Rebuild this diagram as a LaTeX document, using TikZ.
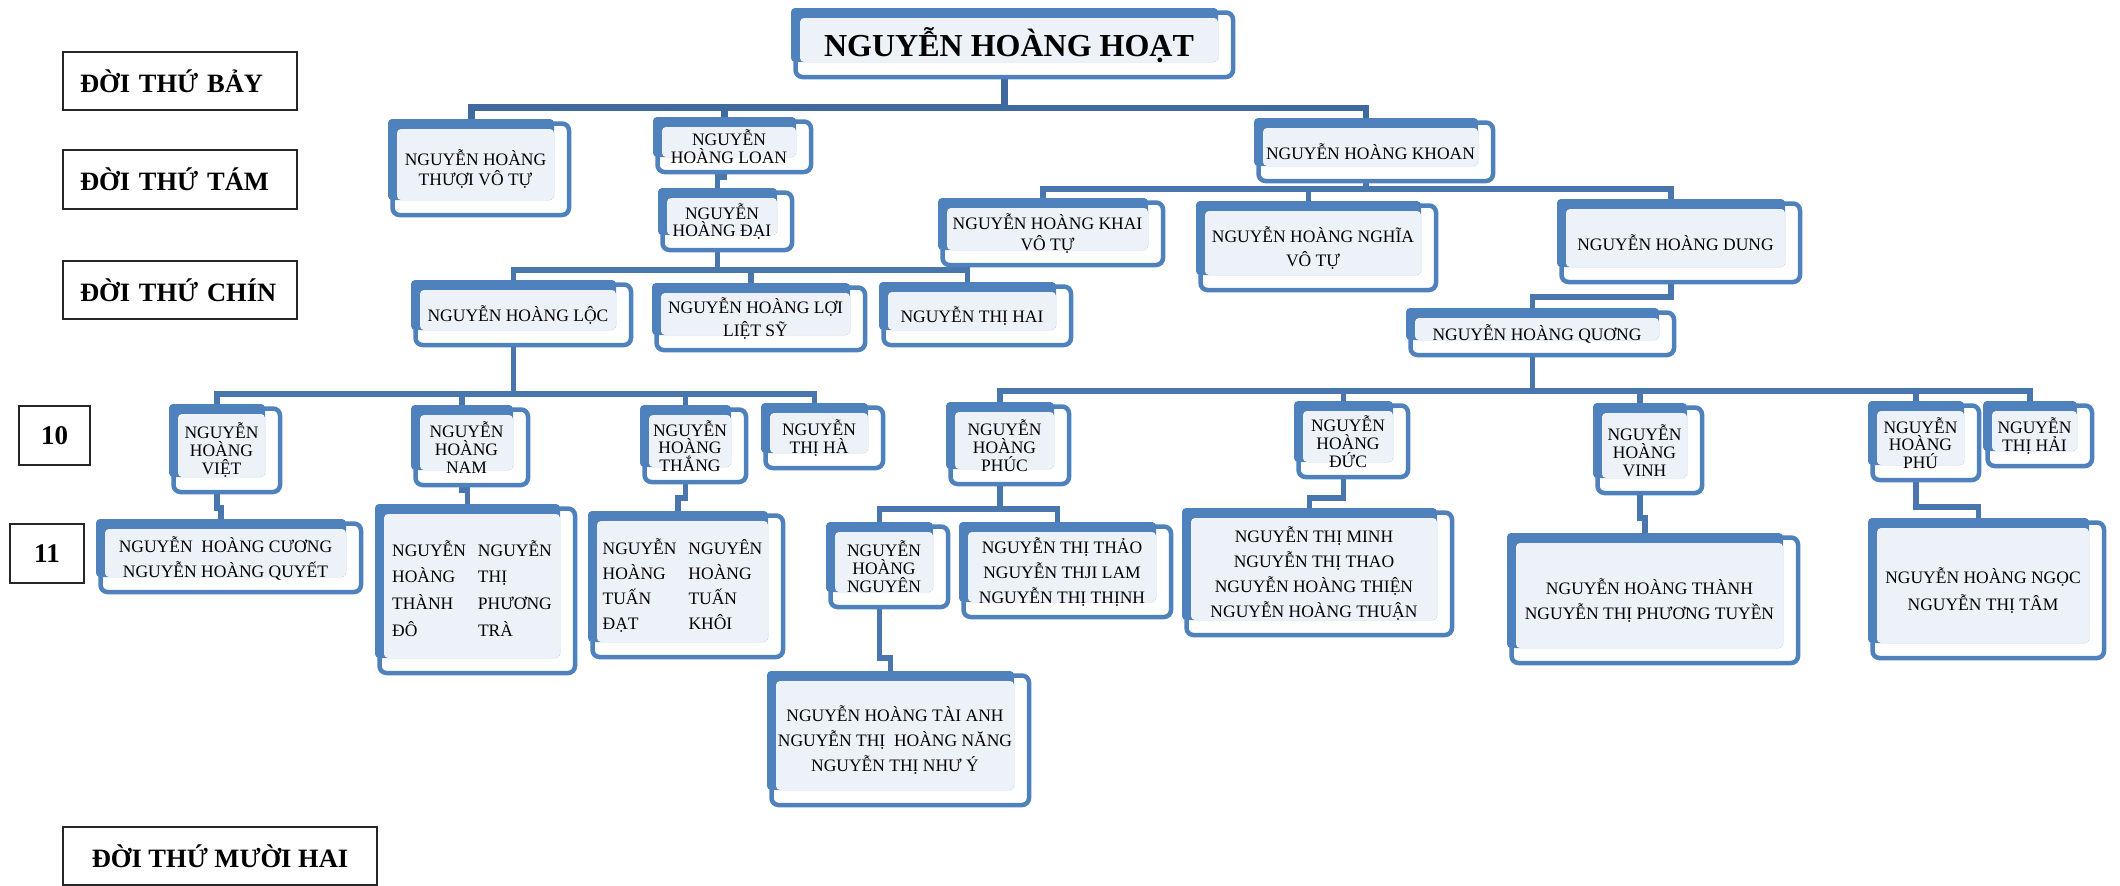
\documentclass[tikz,border=0pt]{standalone}
\usepackage{fontspec}
\setmainfont{Liberation Serif}
\pgfdeclarelayer{bg}
\pgfsetlayers{bg,main}
\definecolor{boxblue}{HTML}{4F81BD}
\definecolor{boxlight}{HTML}{EDF1F8}
\definecolor{connblue}{HTML}{4A76AE}
\definecolor{conndark}{HTML}{3F6A9E}
\definecolor{labline}{HTML}{262626}
\tikzset{
  famouter/.style={draw=boxblue, line width=4.5pt, fill=white, rounded corners=7pt},
  famback/.style={fill=boxblue, rounded corners=4pt},
  famfill/.style={fill=boxlight, rounded corners=4pt},
  famtext/.style={inner sep=0pt, align=center, text=black},
  connline/.style={draw=connblue, line width=5.5pt},
  rootline/.style={draw=conndark, line width=6pt},
  labbox/.style={draw=labline, line width=1.6pt, fill=white, inner sep=0pt,
    font=\bfseries\fontsize{26.5}{30}\selectfont}
}
\newcommand\famnode[7]{%
  \pgfmathsetmacro\famw{#4-#2-9}%
  \pgfmathsetmacro\famh{#5-#3-10}%
  \pgfmathsetmacro\famcx{(#2+9+#4)/2}%
  \pgfmathsetmacro\famcy{(#3+10+#5)/2+5}%
  \draw[famouter] (#2+4.5,#3+4.5) rectangle (#4+15,#5+15);
  \fill[famback] (#2,#3) rectangle (#4,#5);
  \fill[famfill] (#2+9,#3+10) rectangle (#4,#5);
  \node[famtext, minimum width=\famw pt, minimum height=\famh pt,
    font=\fontsize{17.5}{#6}\selectfont] (#1) at (\famcx,\famcy) {#7};
}
\newcommand\famlink[4][connline]{%
  \draw[#1] ([xshift=-4.5pt]#2.south) |- ([xshift=-4.5pt]#3.north |- 0,#4) -- ([xshift=-4.5pt]#3.north);
}
\begin{document}
\begin{tikzpicture}[x=1pt,y=-1pt]
\useasboundingbox (0,0) rectangle (2120,886);
\begin{pgfonlayer}{bg}
\fill[white] (0,0) rectangle (2120,886);
\end{pgfonlayer}

% generation labels
\node[labbox, minimum width=234pt, minimum height=58pt, text width=200pt, align=left] (g7) at (180,81) {ĐỜI THỨ BẢY};
\node[labbox, minimum width=234pt, minimum height=59pt, text width=200pt, align=left] (g8) at (180,179.5) {ĐỜI THỨ TÁM};
\node[labbox, minimum width=234pt, minimum height=58pt, text width=200pt, align=left] (g9) at (180,290) {ĐỜI THỨ CHÍN};
\node[labbox, minimum width=71pt, minimum height=59pt, font=\bfseries\fontsize{27}{30}\selectfont] (g10) at (54.5,435.5) {10};
\node[labbox, minimum width=74pt, minimum height=59pt, font=\bfseries\fontsize{27}{30}\selectfont] (g11) at (47,553.5) {11};
\node[labbox, minimum width=314pt, minimum height=58pt] (g12) at (220,856) {ĐỜI THỨ MƯỜI HAI};

% family boxes
\famnode{root}{791}{8}{1218}{62}{36}{\bfseries\fontsize{32}{36}\selectfont NGUYỄN HOÀNG HOẠT}
\famnode{thuoi}{388}{119}{554}{200}{20}{NGUYỄN HOÀNG\\THƯỢI VÔ TỰ}
\famnode{loan}{653}{117}{796}{157}{18}{NGUYỄN\\HOÀNG LOAN}
\famnode{khoan}{1254}{118}{1478}{166}{20}{NGUYỄN HOÀNG KHOAN}
\famnode{dai}{658}{188}{777}{235}{17.5}{NGUYỄN\\HOÀNG ĐẠI}
\famnode{khai}{938}{198}{1148}{250}{21}{NGUYỄN HOÀNG KHAI\\VÔ TỰ}
\famnode{nghia}{1196}{201}{1421}{275}{24}{NGUYỄN HOÀNG NGHĨA\\VÔ TỰ}
\famnode{dung}{1557}{199}{1785}{267}{20}{NGUYỄN HOÀNG DUNG}
\famnode{loc}{411}{280}{616}{330}{20}{NGUYỄN HOÀNG LỘC}
\famnode{loi}{652}{283}{850}{335}{23}{NGUYỄN HOÀNG LỢI\\LIỆT SỸ}
\famnode{hai}{879}{282}{1056}{330}{20}{NGUYỄN THỊ HAI}
\famnode{quong}{1406}{308}{1659}{340}{20}{NGUYỄN HOÀNG QUƠNG}
\famnode{viet}{169}{404}{265}{477}{18}{NGUYỄN\\HOÀNG\\VIỆT}
\famnode{nam}{411}{405}{513}{470}{18}{NGUYỄN\\HOÀNG\\NAM}
\famnode{thang}{640}{405}{731}{467}{17.5}{NGUYỄN\\HOÀNG\\THẮNG}
\famnode{ha}{761}{403}{868}{453}{18}{NGUYỄN\\THỊ HÀ}
\famnode{phuc}{946}{402}{1054}{469}{18}{NGUYỄN\\HOÀNG\\PHÚC}
\famnode{duc}{1294}{401}{1393}{462}{18}{NGUYỄN\\HOÀNG\\ĐỨC}
\famnode{vinh}{1593}{403}{1687}{478}{18}{NGUYỄN\\HOÀNG\\VINH}
\famnode{phu}{1868}{401}{1964}{465}{17.5}{NGUYỄN\\HOÀNG\\PHÚ}
\famnode{haii}{1983}{401}{2077}{451}{18}{NGUYỄN\\THỊ HẢI}
\famnode{cuong}{96}{519}{346}{577}{25}{NGUYỄN\ \ HOÀNG CƯƠNG\\NGUYỄN HOÀNG QUYẾT}
\famnode{thanhdo}{375}{504}{560}{658}{26.7}{\begin{tabular}{@{}l@{\hspace{12pt}}l@{}}NGUYỄN&NGUYỄN\\HOÀNG&THỊ\\THÀNH&PHƯƠNG\\ĐÔ&TRÀ\end{tabular}}
\famnode{tuan}{588}{511}{768}{642}{25}{\begin{tabular}{@{}l@{\hspace{12pt}}l@{}}NGUYỄN&NGUYÊN\\HOÀNG&HOÀNG\\TUẤN&TUẤN\\ĐẠT&KHÔI\end{tabular}}
\famnode{nguyen}{826}{522}{933}{592}{18}{NGUYỄN\\HOÀNG\\NGUYÊN}
\famnode{thao}{959}{522}{1156}{602}{25}{NGUYỄN THỊ THẢO\\NGUYỄN THJI LAM\\NGUYỄN THỊ THỊNH}
\famnode{minh}{1182}{508}{1437}{620}{25}{NGUYỄN THỊ MINH\\NGUYỄN THỊ THAO\\NGUYỄN HOÀNG THIỆN\\NGUYỄN HOÀNG THUẬN}
\famnode{thanh}{1507}{533}{1783}{648}{25}{NGUYỄN HOÀNG THÀNH\\NGUYỄN THỊ PHƯƠNG TUYỀN}
\famnode{ngoc}{1868}{518}{2089}{643}{27}{NGUYỄN HOÀNG NGỌC\\NGUYỄN THỊ TÂM}
\famnode{taianh}{767}{671}{1014}{790}{25}{NGUYỄN HOÀNG TÀI ANH\\NGUYỄN THỊ\ \ HOÀNG NĂNG\\NGUYỄN THỊ NHƯ Ý}

% connectors
\begin{pgfonlayer}{bg}
\famlink[rootline,line width=7pt]{root}{thuoi}{107}
\famlink[rootline,line width=7pt]{root}{loan}{107}
\famlink[rootline]{root}{khoan}{108}
\famlink{loan}{dai}{177}
\famlink{dai}{loc}{270}
\famlink{dai}{loi}{270}
\famlink{dai}{hai}{270}
\famlink{khoan}{khai}{189}
\famlink{khoan}{nghia}{189}
\famlink{khoan}{dung}{189}
\famlink{dung}{quong}{297}
\famlink{loc}{viet}{394}
\famlink{loc}{nam}{394}
\famlink{loc}{thang}{394}
\famlink{loc}{ha}{394}
\famlink{quong}{phuc}{391}
\famlink{quong}{duc}{391}
\famlink{quong}{vinh}{391}
\famlink{quong}{phu}{391}
\famlink{quong}{haii}{391}
\famlink{viet}{cuong}{508}
\famlink{nam}{thanhdo}{490}
\famlink{thang}{tuan}{498}
\famlink{phuc}{nguyen}{509}
\famlink{phuc}{thao}{509}
\famlink{nguyen}{taianh}{658}
\famlink{duc}{minh}{498}
\famlink{vinh}{thanh}{518}
\famlink{phu}{ngoc}{507}
\end{pgfonlayer}
\end{tikzpicture}
\end{document}
